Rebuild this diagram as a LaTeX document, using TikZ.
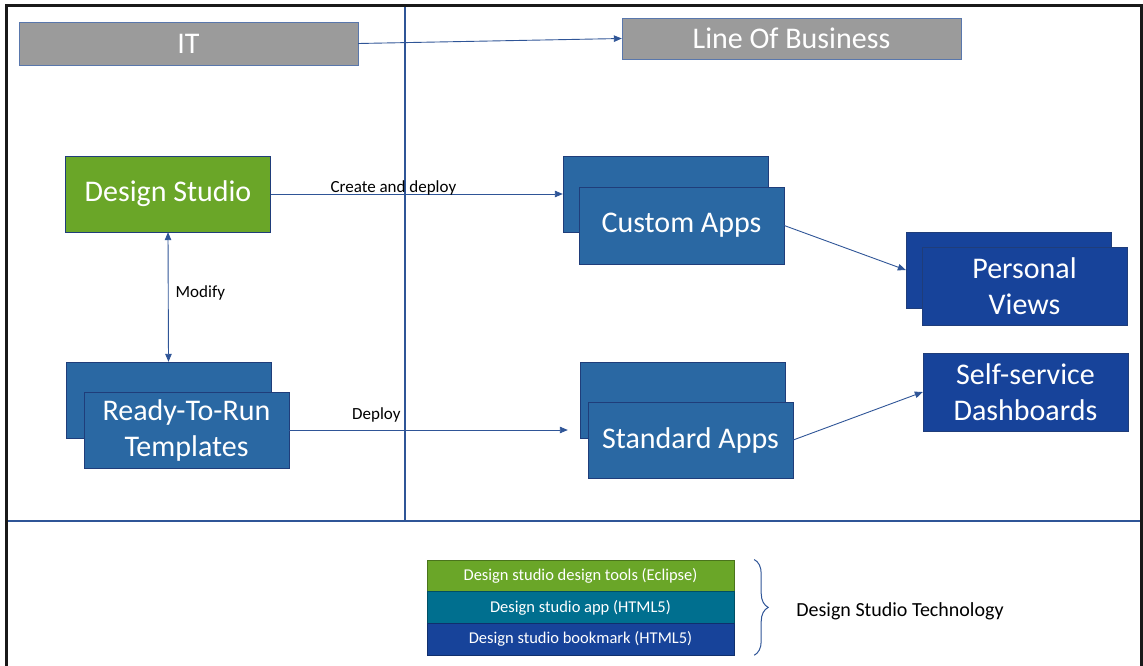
\documentclass[tikz,border=0pt]{standalone}
\usepackage{fontspec}
\setmainfont{Carlito}
\usetikzlibrary{positioning,arrows.meta,decorations.pathreplacing}
\definecolor{itgray}{HTML}{9B9B9B}
\definecolor{dsgreen}{HTML}{6AA628}
\definecolor{appblue}{HTML}{2A68A3}
\definecolor{viewblue}{HTML}{17439A}
\definecolor{techteal}{HTML}{006F8F}
\definecolor{wire}{HTML}{2F5597}
\definecolor{edge}{HTML}{1F3D7A}
\tikzset{
  hdr/.style    = {rectangle, draw=wire!80, fill=itgray, text=white, inner sep=0pt,
                   minimum width=339pt, minimum height=43pt, font=\fontsize{30}{36}\selectfont},
  tool/.style   = {rectangle, draw=edge, fill=dsgreen, text=white, align=center, inner sep=0pt,
                   minimum width=205pt, minimum height=76pt, font=\fontsize{30}{36}\selectfont},
  app/.style    = {tool, fill=appblue},
  view/.style   = {tool, fill=viewblue},
  layer/.style  = {rectangle, inner sep=0pt, text=white, minimum width=307pt,
                   minimum height=31.5pt, font=\fontsize{16.5}{19}\selectfont},
  flow/.style   = {-{Triangle[length=8pt,width=6.5pt]}, line width=0.9pt, draw=wire},
  flowboth/.style = {{Triangle[length=8pt,width=6.5pt]}-{Triangle[length=8pt,width=6.5pt]},
                   line width=0.9pt, draw=wire},
  lbl/.style    = {font=\fontsize{17}{20}\selectfont, text=black, inner sep=0pt},
  divider/.style = {line width=1.2pt, draw=wire},
}
\begin{document}
\begin{tikzpicture}[x=1pt, y=-1pt]
  \useasboundingbox (0,0) rectangle (1143,666);
  % frame and dividers
  \draw[line width=3pt, black!90] (6,672) -- (6,6) -- (1141,6) -- (1141,672);
  \coordinate (vtop) at (405,7.5);
  \coordinate (vbot) at (405,521);
  \coordinate (hl) at (7.5,521);
  \coordinate (hr) at (1139.5,521);
  \draw[divider] (vtop) -- (vbot);
  \draw[divider] (hl) -- (hr);

  % headers
  \node[hdr] (it)  at (188.5,43.5) {IT};
  \node[hdr, minimum height=41pt] (lob) at (791.5,38.5) {Line Of Business};

  % IT side
  \node[tool] (ds) at (168,194) {Design Studio};
  \node[app] (rtrback) at (168.5,400) {};
  \node[app, align=center] (rtr) at ([shift={(18,30)}]rtrback.center) {Ready-To-Run\\Templates};

  % business side
  \node[app] (caback) at (665.5,194) {};
  \node[app, minimum height=77pt] (ca) at ([shift={(16,31.5)}]caback.center) {Custom Apps};
  \node[app] (saback) at (682.5,400) {};
  \node[app] (sa) at ([shift={(8,40)}]saback.center) {Standard Apps};
  \node[view] (pvback) at (1008.5,270) {};
  \node[view, minimum height=78pt] (pv) at ([shift={(16,16)}]pvback.center) {Personal\\Views};
  \node[view, minimum height=78pt] (ssd) at (1025.5,392) {Self-service\\Dashboards};

  % technology stack
  \node[layer, draw=dsgreen!70!black, fill=dsgreen] (st1) at (580.5,575.5) {Design studio design tools (Eclipse)};
  \node[layer, draw=techteal!70!black, fill=techteal, below=0pt of st1] (st2) {Design studio app (HTML5)};
  \node[layer, draw=viewblue!70!black, fill=viewblue, below=0pt of st2] (st3) {Design studio bookmark (HTML5)};
  \node[font=\fontsize{20}{24}\selectfont, inner sep=0pt, right=62pt of st2, yshift=-4pt] (dstech) {Design Studio Technology};
  \draw[wire, line width=1pt, decorate, decoration={brace, amplitude=14pt}]
    ([xshift=20pt]st1.north east) -- ([xshift=20pt]st3.south east);

  % arrows
  \draw[flow] (it.east) -- (lob.west);
  \draw[flow] (ds.east) -- (caback.west) node[lbl, pos=0.42, above=-2pt] {Create and deploy};
  \draw[flowboth] (ds.south) -- (rtrback.north) node[lbl, midway, right=7pt, yshift=4pt] {Modify};
  \draw[flow, shorten >=12pt] (rtr.east) -- (rtr.east -| saback.west) node[lbl, pos=0.3, above=7pt] {Deploy};
  \draw[flow] (ca.east) -- (pvback.west);
  \draw[flow] (sa.east) -- (ssd.west);
\end{tikzpicture}
\end{document}
